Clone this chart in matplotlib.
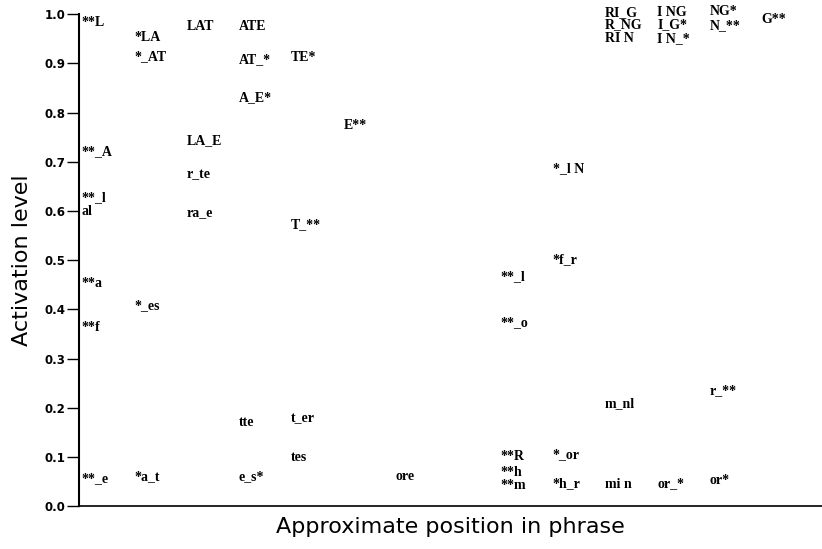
import matplotlib
matplotlib.use("Agg")
from matplotlib import pyplot as plt

# unit labels: text, position in phrase (column), activation level
labels = [
    "**L", "**_A", "**_l", "al", "**a", "**f", "**_e",
    "*LA", "*_AT", "*_es", "*a_t",
    "LAT", "LA_E", "r_te", "ra_e",
    "ATE", "AT_*", "A_E*", "tte", "e_s*",
    "TE*", "T_**", "t_er", "tes",
    "E**",
    "ore",
    "**_l", "**_o", "**R", "**h", "**m",
    "*_l N", "*f_r", "*_or", "*h_r",
    "RI_G", "R_NG", "RI N", "m_nl", "mi n",
    "I NG", "I_G*", "I N_*", "or_*",
    "NG*", "N_**", "r_**", "or*",
    "G**",
]
positions = [
    0, 0, 0, 0, 0, 0, 0,
    1, 1, 1, 1,
    2, 2, 2, 2,
    3, 3, 3, 3, 3,
    4, 4, 4, 4,
    5,
    6,
    8, 8, 8, 8, 8,
    9, 9, 9, 9,
    10, 10, 10, 10, 10,
    11, 11, 11, 11,
    12, 12, 12, 12,
    13,
]
levels = [
    0.984, 0.72, 0.628, 0.60, 0.452, 0.364, 0.055,
    0.953, 0.913, 0.408, 0.061,
    0.976, 0.744, 0.675, 0.596,
    0.976, 0.907, 0.831, 0.171, 0.061,
    0.913, 0.573, 0.179, 0.098,
    0.774,
    0.061,
    0.467, 0.374, 0.10, 0.069, 0.043,
    0.687, 0.502, 0.104, 0.045,
    1.004, 0.978, 0.951, 0.209, 0.045,
    1.004, 0.978, 0.951, 0.045,
    1.006, 0.976, 0.234, 0.053,
    0.990,
]

yticks = [0.0, 0.1, 0.2, 0.3, 0.4, 0.5, 0.6, 0.7, 0.8, 0.9, 1.0]

fig = plt.figure(figsize=(8.22, 5.49), dpi=100)
ax = fig.add_axes([0.096, 0.078, 0.904, 0.896])

for text, pos, lev in zip(labels, positions, levels):
    ax.text(pos, lev, text, ha="left", va="center", fontsize=10,
            family="Liberation Serif", fontweight="bold", clip_on=False)

ax.set_xlim(-0.057, 14.15)
ax.set_ylim(0.0, 1.0)
ax.set_yticks(yticks)
ax.set_yticklabels(["%.1f" % t for t in yticks], fontsize=8.5,
                   fontweight="bold", family="DejaVu Sans")
ax.set_xticks([])
ax.tick_params(axis="y", direction="out", length=8.5, width=1, pad=1)
ax.spines["top"].set_visible(False)
ax.spines["right"].set_visible(False)
ax.spines["left"].set_linewidth(1.5)
ax.spines["bottom"].set_linewidth(1.2)

ax.set_ylabel("Activation level", fontsize=16, family="DejaVu Sans")
ax.yaxis.set_label_coords(-0.063, 0.5)
ax.set_xlabel("Approximate position in phrase", fontsize=16,
              family="DejaVu Sans")
ax.xaxis.set_label_coords(0.5, -0.022)

fig.savefig("out.png", dpi=100)
